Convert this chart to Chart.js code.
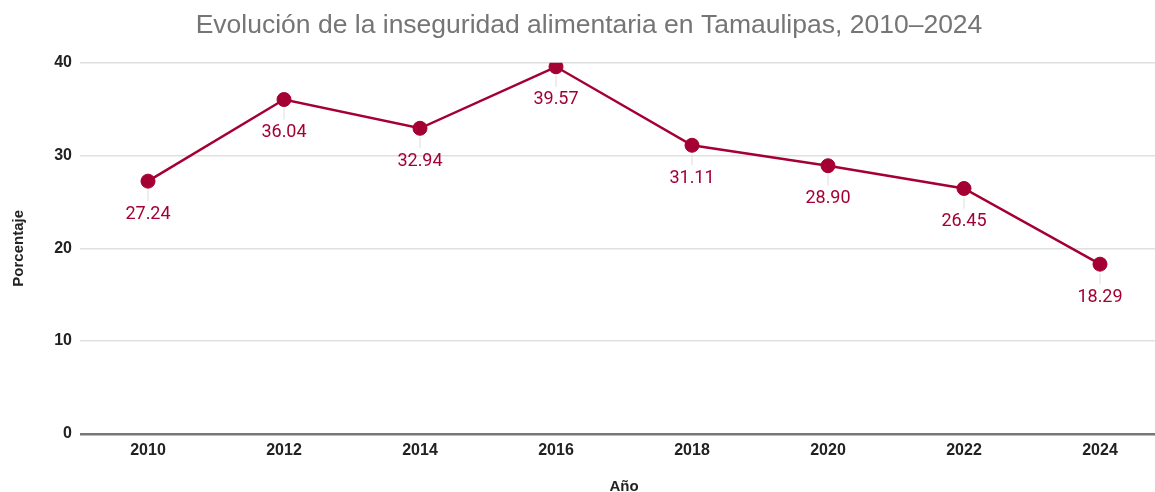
<!DOCTYPE html>
<html lang="es">

<head>
    <meta charset="UTF-8">
    <title>Inseguridad alimentaria Tamaulipas</title>
    <script src="https://cdn.jsdelivr.net/npm/chart.js"></script>
    <style>
        html,
        body {
            margin: 0;
            padding: 0;
            overflow: hidden;
            background: #fff;
        }

        #wrap {
            width: 1178px;
            height: 500px;
        }
    </style>
</head>

<body>
    <div id="wrap">
        <canvas id="chart" width="1178" height="500"></canvas>
    </div>

    <script>
        const years = ['2010', '2012', '2014', '2016', '2018', '2020', '2022', '2024'];
        const porcentaje = [27.24, 36.04, 32.94, 39.57, 31.11, 28.90, 26.45, 18.29];
        const yTicks = [0, 10, 20, 30, 40];

        const red = '#a50034';

        // labels under each point, with a short light leader line
        const valueLabels = {
            id: 'valueLabels',
            afterDatasetsDraw(chart) {
                const ctx = chart.ctx;
                const meta = chart.getDatasetMeta(0);
                ctx.save();
                meta.data.forEach((pt, i) => {
                    ctx.strokeStyle = '#dddddd';
                    ctx.lineWidth = 1;
                    ctx.beginPath();
                    ctx.moveTo(pt.x, pt.y + 9);
                    ctx.lineTo(pt.x, pt.y + 20);
                    ctx.stroke();
                    ctx.fillStyle = red;
                    ctx.font = '18px Roboto';
                    ctx.textAlign = 'center';
                    ctx.textBaseline = 'middle';
                    ctx.fillText(porcentaje[i].toFixed(2), pt.x, pt.y + 33);
                });
                ctx.restore();
            }
        };

        new Chart(document.getElementById('chart'), {
            type: 'line',
            data: {
                labels: years,
                datasets: [{
                    label: 'Porcentaje',
                    data: porcentaje,
                    borderColor: red,
                    backgroundColor: red,
                    borderWidth: 2.5,
                    pointRadius: 7,
                    pointHoverRadius: 7,
                    pointBorderWidth: 1,
                    tension: 0,
                    clip: 0
                }]
            },
            options: {
                responsive: false,
                animation: false,
                layout: { padding: { left: 10, right: 10, top: 0, bottom: 4 } },
                plugins: {
                    legend: { display: false },
                    tooltip: { enabled: false },
                    title: {
                        display: true,
                        text: 'Evolución de la inseguridad alimentaria en Tamaulipas, 2010–2024',
                        color: '#757575',
                        font: { family: 'Liberation Sans', size: 26.5, weight: 'normal' },
                        padding: { top: 10, bottom: 21 }
                    }
                },
                scales: {
                    x: {
                        offset: true,
                        grid: { display: false, drawTicks: false },
                        border: { display: false },
                        ticks: {
                            color: '#222',
                            padding: 7,
                            font: { family: 'Liberation Sans', size: 16, weight: 'bold' }
                        },
                        title: {
                            display: true,
                            text: 'Año',
                            color: '#222',
                            padding: { top: 11, bottom: 0 },
                            font: { family: 'Liberation Sans', size: 15, weight: 'bold' }
                        }
                    },
                    y: {
                        min: 0,
                        max: 40,
                        afterFit: s => { s.width = 70; },
                        afterBuildTicks: s => { s.ticks = yTicks.map(v => ({ value: v })); },
                        border: { display: false },
                        grid: {
                            drawTicks: false,
                            color: c => c.tick.value === 0 ? '#777777' : '#e0e0e0',
                            lineWidth: c => c.tick.value === 0 ? 2.5 : 1.5
                        },
                        ticks: {
                            color: '#222',
                            padding: 8,
                            font: { family: 'Liberation Sans', size: 16, weight: 'bold' }
                        },
                        title: {
                            display: true,
                            text: 'Porcentaje',
                            color: '#222',
                            padding: { top: 0, bottom: 10 },
                            font: { family: 'Liberation Sans', size: 15, weight: 'bold' }
                        }
                    }
                }
            },
            plugins: [valueLabels]
        });
    </script>
</body>

</html>
